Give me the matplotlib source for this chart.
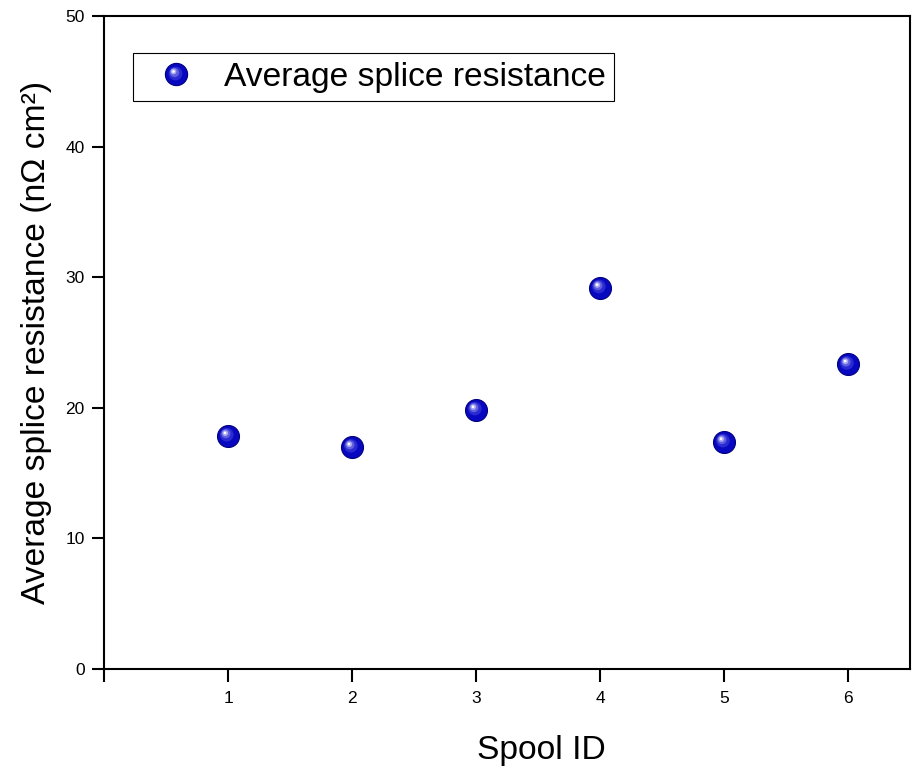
import matplotlib
matplotlib.use('Agg')
import matplotlib.pyplot as plt
from matplotlib import transforms
from matplotlib.lines import Line2D
from matplotlib.legend_handler import HandlerBase

plt.rcParams['font.family'] = ['Liberation Sans', 'DejaVu Sans']

# Data
spool_id = [1, 2, 3, 4, 5, 6]
resistance = [17.85, 17.0, 19.85, 29.2, 17.4, 23.35]

BASE = '#0808c0'
EDGE = '#000080'
# highlight layers: (relative size, colour, offset up-left in points)
LAYERS = [(0.62, '#2a2ad2', 0.9), (0.42, '#6060de', 1.6), (0.26, '#aaaaf0', 2.0), (0.12, '#ffffff', 2.2)]


class SphereHandler(HandlerBase):
    def create_artists(self, legend, orig_handle, xdescent, ydescent, width, height, fontsize, trans):
        cx = 0.5 * width - xdescent
        cy = 0.5 * height - ydescent
        ms = 16
        arts = [Line2D([cx], [cy], marker='o', markersize=ms, linestyle='none',
                       markerfacecolor=BASE, markeredgecolor=EDGE, markeredgewidth=0.8,
                       transform=trans)]
        for rel, col, off in LAYERS:
            arts.append(Line2D([cx - off], [cy + off], marker='o', markersize=ms * rel,
                               linestyle='none', markerfacecolor=col,
                               markeredgecolor='none', transform=trans))
        return arts


fig = plt.figure(figsize=(9.14, 7.69), dpi=100)
ax = fig.add_axes([0.1138, 0.13, 0.882, 0.849])

# Sphere-like markers: base disc plus highlight layers shifted up-left
s0 = 250
sc = ax.scatter(spool_id, resistance, s=s0, color=BASE, edgecolors=EDGE,
                linewidths=0.8, zorder=3)
for rel, col, off in LAYERS:
    tr = transforms.offset_copy(ax.transData, fig=fig, x=-off, y=off, units='points')
    ax.scatter(spool_id, resistance, s=s0 * rel ** 2, color=col, edgecolors='none',
               zorder=4, transform=tr)

ax.set_xlim(0, 6.5)
ax.set_ylim(0, 50)
ax.set_xticks([0, 1, 2, 3, 4, 5, 6])
ax.set_xticklabels(['', '1', '2', '3', '4', '5', '6'])
ax.set_yticks([0, 10, 20, 30, 40, 50])
ax.tick_params(direction='out', length=9, width=1.5, labelsize=12.5, pad=5)
ax.tick_params(axis='x', pad=7)
for sp in ax.spines.values():
    sp.set_linewidth(1.5)

ax.set_xlabel('Spool ID', fontsize=24.2)
ax.xaxis.set_label_coords(0.542, -0.101)
ax.set_ylabel('Average splice resistance (nΩ cm²)', fontsize=24.2)
ax.yaxis.set_label_coords(-0.065, 0.5)

leg = ax.legend([sc], ['Average splice resistance'], loc='upper left',
                handler_map={type(sc): SphereHandler()},
                bbox_to_anchor=(0.036, 0.943), fontsize=24.2, fancybox=False,
                framealpha=1, edgecolor='black', handletextpad=0.4,
                borderpad=0.25, handlelength=2.05, borderaxespad=0)
leg.get_frame().set_linewidth(0.8)

fig.savefig('out.png', dpi=100)
